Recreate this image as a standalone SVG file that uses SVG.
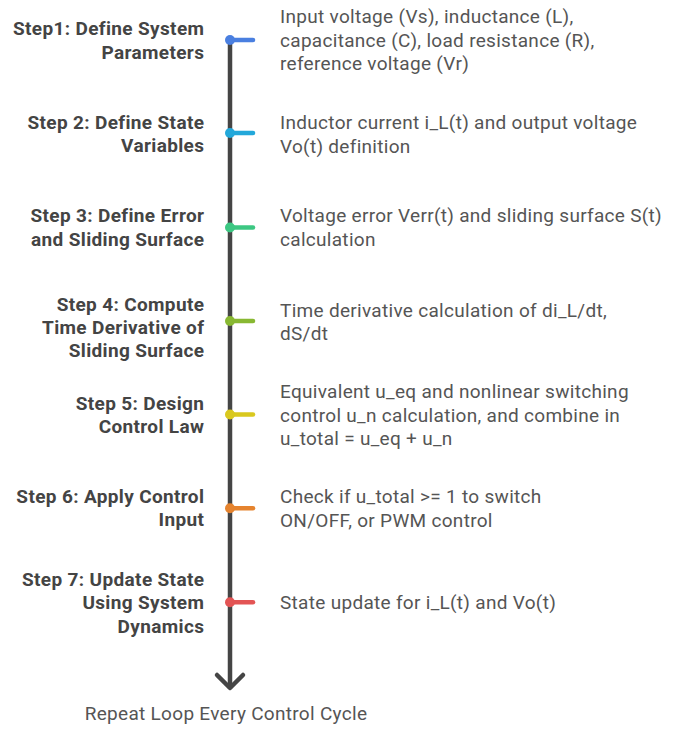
<svg xmlns="http://www.w3.org/2000/svg" width="680" height="729" viewBox="0 0 680 729">
<style>
.l{font-family:Roboto,"Liberation Sans",sans-serif;font-size:19px;letter-spacing:0.35px;font-weight:bold;fill:#444;text-anchor:end}
.r{font-family:Roboto,"Liberation Sans",sans-serif;font-size:19px;letter-spacing:0.3px;fill:#555}
.b{font-family:Roboto,"Liberation Sans",sans-serif;font-size:19px;letter-spacing:0.3px;fill:#555;text-anchor:middle}
.stub{stroke-width:4.5;stroke-linecap:round;fill:none}
</style>
<rect width="680" height="729" fill="#fff"/>
<g id="connectors">
<line x1="230" y1="40" x2="230" y2="686" stroke="#454545" stroke-width="4.5"/>
<polyline points="217,675 230,688 243,675" fill="none" stroke="#454545" stroke-width="4.5" stroke-linecap="round" stroke-linejoin="round"/>
</g>
<g id="step1">
<line class="stub" x1="230" y1="40" x2="253" y2="40" stroke="#4a7fe0"/><circle cx="230" cy="40" r="5" fill="#4a7fe0"/>
<text class="l"><tspan x="204.3" y="35.3">Step1: Define System</tspan><tspan x="204.3" y="58.7">Parameters</tspan></text>
<text class="r"><tspan x="280" y="23.3">Input voltage (Vs), inductance (L),</tspan><tspan x="280" y="46.8">capacitance (C), load resistance (R),</tspan><tspan x="280" y="70.3">reference voltage (Vr)</tspan></text>
</g>
<g id="step2">
<line class="stub" x1="230" y1="133" x2="253" y2="133" stroke="#23a8da"/><circle cx="230" cy="133" r="5" fill="#23a8da"/>
<text class="l"><tspan x="204.3" y="129.3">Step 2: Define State</tspan><tspan x="204.3" y="152.3">Variables</tspan></text>
<text class="r"><tspan x="280" y="129.3">Inductor current i_L(t) and output voltage</tspan><tspan x="280" y="152.7">Vo(t) definition</tspan></text>
</g>
<g id="step3">
<line class="stub" x1="230" y1="227.5" x2="253" y2="227.5" stroke="#3cc782"/><circle cx="230" cy="227.5" r="5" fill="#3cc782"/>
<text class="l"><tspan x="204.3" y="222.3">Step 3: Define Error</tspan><tspan x="204.3" y="245.7">and Sliding Surface</tspan></text>
<text class="r"><tspan x="280" y="222.3">Voltage error Verr(t) and sliding surface S(t)</tspan><tspan x="280" y="246">calculation</tspan></text>
</g>
<g id="step4">
<line class="stub" x1="230" y1="321" x2="253" y2="321" stroke="#88b832"/><circle cx="230" cy="321" r="5" fill="#88b832"/>
<text class="l"><tspan x="204.3" y="310.7">Step 4: Compute</tspan><tspan x="204.3" y="333.5">Time Derivative of</tspan><tspan x="204.3" y="356.7">Sliding Surface</tspan></text>
<text class="r"><tspan x="280" y="316.7">Time derivative calculation of di_L/dt,</tspan><tspan x="280" y="340">dS/dt</tspan></text>
</g>
<g id="step5">
<line class="stub" x1="230" y1="414.5" x2="253" y2="414.5" stroke="#d9c81e"/><circle cx="230" cy="414.5" r="5" fill="#d9c81e"/>
<text class="l"><tspan x="204.3" y="410">Step 5: Design</tspan><tspan x="204.3" y="433.3">Control Law</tspan></text>
<text class="r"><tspan x="280" y="397.5">Equivalent u_eq and nonlinear switching</tspan><tspan x="280" y="421.5">control u_n calculation, and combine in</tspan><tspan x="280" y="445">u_total = u_eq + u_n</tspan></text>
</g>
<g id="step6">
<line class="stub" x1="230" y1="508.3" x2="253" y2="508.3" stroke="#e5832e"/><circle cx="230" cy="508.3" r="5" fill="#e5832e"/>
<text class="l"><tspan x="204.3" y="502.7">Step 6: Apply Control</tspan><tspan x="204.3" y="526">Input</tspan></text>
<text class="r"><tspan x="280" y="502.7">Check if u_total &gt;= 1 to switch</tspan><tspan x="280" y="526.7">ON/OFF, or PWM control</tspan></text>
</g>
<g id="step7">
<line class="stub" x1="230" y1="602.3" x2="253" y2="602.3" stroke="#e35454"/><circle cx="230" cy="602.3" r="5" fill="#e35454"/>
<text class="l"><tspan x="204.3" y="586">Step 7: Update State</tspan><tspan x="204.3" y="609.3">Using System</tspan><tspan x="204.3" y="632.7">Dynamics</tspan></text>
<text class="r"><tspan x="280" y="608.7">State update for i_L(t) and Vo(t)</tspan></text>
</g>
<g id="footer">
<text class="b" x="226" y="720">Repeat Loop Every Control Cycle</text>
</g>
</svg>
